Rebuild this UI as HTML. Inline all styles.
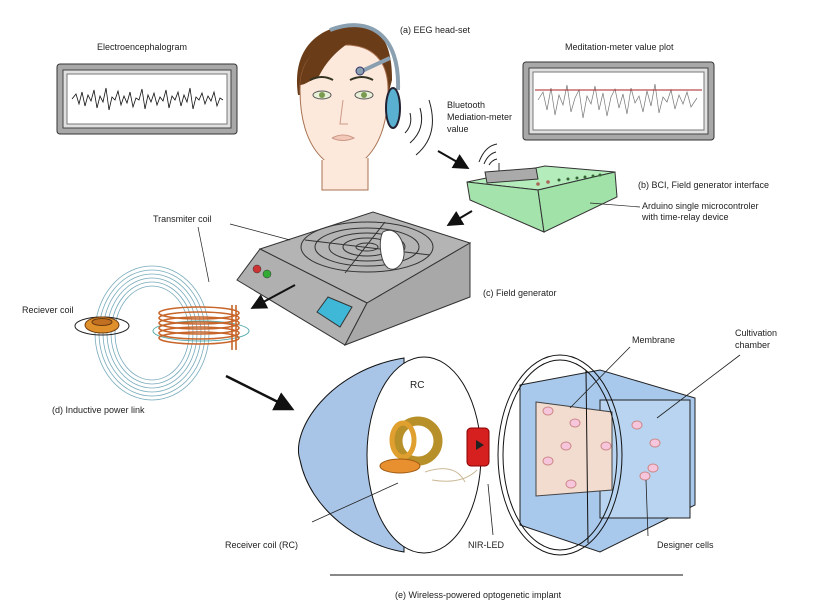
<!DOCTYPE html>
<html><head><meta charset="utf-8"><style>
html,body{margin:0;padding:0;background:#fff}
svg{display:block}
text{font-family:"Liberation Sans",sans-serif;font-size:9px;fill:#222}
</style></head><body>
<svg width="813" height="610" viewBox="0 0 813 610" xmlns="http://www.w3.org/2000/svg">
<defs>
<marker id="ar" markerWidth="8" markerHeight="8" refX="6" refY="4" orient="auto"><path d="M0,0 L8,4 L0,8 z" fill="#111"/></marker>
</defs>
<!-- EEG monitor -->
<text x="97" y="50">Electroencephalogram</text>
<rect x="57" y="64" width="180" height="70" rx="3" fill="#a8a8a8" stroke="#333"/>
<rect x="63" y="70" width="168" height="58" fill="#e0e0e0" stroke="#444"/>
<rect x="67" y="74" width="160" height="50" fill="#fff" stroke="#777"/>
<polyline fill="none" stroke="#111" stroke-width="0.8" points="72,99 76,94 79,104 82,92 85,106 88,95 91,101 94,90 97,108 100,96 103,102 106,88 109,110 112,97 115,100 118,91 121,105 124,96 127,103 130,92 133,107 136,98 139,100 142,89 145,109 148,95 151,102 154,93 157,105 160,97 163,101 166,90 169,108 172,96 175,100 178,92 181,106 184,95 187,102 190,88 193,109 196,97 199,100 202,93 205,104 208,96 211,101 214,92 217,106 220,98 223,100"/>
<!-- Meditation monitor -->
<text x="565" y="50">Meditation-meter value plot</text>
<rect x="523" y="62" width="191" height="78" rx="3" fill="#a8a8a8" stroke="#333"/>
<rect x="529" y="68" width="179" height="66" fill="#e0e0e0" stroke="#444"/>
<rect x="533" y="72" width="171" height="58" fill="#fff" stroke="#777"/>
<polyline fill="none" stroke="#777" stroke-width="0.7" points="538,100 543,92 547,110 551,88 555,115 559,95 563,105 567,85 571,112 575,98 579,90 583,118 587,96 591,104 595,86 599,110 603,93 607,116 611,97 615,89 619,108 623,94 627,114 631,88 635,103 639,96 643,112 647,91 651,106 655,84 659,113 663,97 667,102 671,90 675,109 679,95 683,104 687,92 691,107 697,98"/>
<line x1="535" y1="90" x2="702" y2="90" stroke="#a22" stroke-width="1"/>
<!-- Face -->
<path d="M298,95 C290,40 330,22 362,25 C385,30 392,50 392,80 L388,95 Z" fill="#6b3c18"/>
<path d="M300,90 C300,55 320,45 345,45 C372,45 388,60 388,90 C388,125 378,150 360,163 C350,170 338,170 328,163 C310,150 300,125 300,90 z" fill="#fce9dc" stroke="#a87050"/>
<path d="M322,160 L322,190 L368,190 L368,158" fill="#fce9dc" stroke="#a87050"/>
<path d="M300,85 C302,55 322,40 350,42 C330,55 322,70 318,78 C310,80 305,85 300,85z" fill="#6b3c18"/>
<path d="M310,80 q12,-6 23,0 M350,80 q12,-6 23,0" stroke="#332" stroke-width="2" fill="none"/>
<ellipse cx="322" cy="95" rx="9" ry="4" fill="#e8f0d8" stroke="#555"/><circle cx="322" cy="95" r="3" fill="#7a9a50"/>
<ellipse cx="364" cy="95" rx="9" ry="4" fill="#e8f0d8" stroke="#555"/><circle cx="364" cy="95" r="3" fill="#7a9a50"/>
<path d="M343,100 l-3,24 h8" stroke="#c98" fill="none"/>
<path d="M332,138 q11,5 22,0 q-11,-6 -22,0" stroke="#c98" fill="#f4c8b8"/>
<path d="M330,30 C370,15 400,35 398,90" stroke="#8aa0b0" stroke-width="4" fill="none"/>
<path d="M362,71 L390,58" stroke="#8aa0b0" stroke-width="4" fill="none"/>
<circle cx="360" cy="71" r="4" fill="#8aa0b0" stroke="#336"/>
<ellipse cx="393" cy="108" rx="7" ry="20" fill="#5ab0d0" stroke="#223" stroke-width="2"/>
<path d="M405,133 q8,-8 5,-20 M410,143 q16,-14 10,-35 M416,155 q24,-20 13,-55" stroke="#222" fill="none"/>
<text x="400" y="33">(a) EEG head-set</text>
<text x="447" y="108">Bluetooth</text>
<text x="447" y="120">Mediation-meter</text>
<text x="447" y="132">value</text>
<line x1="438" y1="151" x2="466" y2="167" stroke="#111" stroke-width="2" marker-end="url(#ar)"/>
<!-- BCI green box -->
<path d="M467,182 L545,166 L615,172 L538,190 z" fill="#b4ecbc" stroke="#333"/>
<path d="M467,182 L538,190 L544,232 L470,200 z" fill="#a4e4ac" stroke="#333"/>
<path d="M538,190 L615,172 L617,197 L544,232 z" fill="#a0e2a8" stroke="#333"/>
<path d="M485,172 L536,168 L538,179 L487,183 z" fill="#aaa" stroke="#333"/>
<line x1="499" y1="171" x2="499" y2="163" stroke="#333"/>
<g fill="#a65"><circle cx="538" cy="184" r="1.8"/><circle cx="548" cy="182" r="1.8"/></g>
<g fill="#363"><circle cx="559" cy="180" r="1.5"/><circle cx="568" cy="179" r="1.5"/><circle cx="577" cy="178" r="1.5"/><circle cx="585" cy="177" r="1.5"/><circle cx="593" cy="176" r="1.5"/><circle cx="600" cy="175" r="1.5"/></g>
<path d="M484,164 q4,-10 12,-12 M479,162 q6,-16 18,-18 M489,165 q3,-5 8,-6" stroke="#222" fill="none"/>
<text x="638" y="188">(b) BCI, Field generator interface</text>
<text x="642" y="209">Arduino single microcontroler</text>
<text x="642" y="220">with time-relay device</text>
<line x1="590" y1="203" x2="640" y2="207" stroke="#222" stroke-width="0.7"/>
<line x1="472" y1="211" x2="450" y2="224" stroke="#111" stroke-width="2" marker-end="url(#ar)"/>
<!-- Field generator -->
<path d="M260,249 L373,212 L470,243 L367,303 z" fill="#b4b4b4" stroke="#333"/>
<path d="M260,249 L367,303 L345,345 L237,280 z" fill="#b0b0b0" stroke="#333"/>
<path d="M367,303 L470,243 L470,297 L345,345 z" fill="#a8a8a8" stroke="#333"/>
<g fill="none" stroke="#333"><ellipse cx="367" cy="247" rx="66" ry="25"/><ellipse cx="367" cy="247" rx="52" ry="19"/><ellipse cx="367" cy="247" rx="38" ry="14"/><ellipse cx="367" cy="247" rx="24" ry="9"/><ellipse cx="367" cy="247" rx="11" ry="4"/><line x1="305" y1="240" x2="430" y2="255"/><line x1="345" y1="273" x2="385" y2="222"/></g>
<path d="M383,232 C395,225 405,240 404,255 C403,265 395,272 388,268 C380,262 378,240 383,232z" fill="#fff" stroke="#444"/>
<circle cx="257" cy="269" r="4" fill="#c33" stroke="#333" stroke-width="0.5"/><circle cx="267" cy="274" r="4" fill="#3a3" stroke="#333" stroke-width="0.5"/>
<path d="M317,312 L328,297 L352,307 L340,327 z" fill="#3fb8d8" stroke="#333"/>
<text x="483" y="296">(c) Field generator</text>
<line x1="295" y1="285" x2="254" y2="307" stroke="#111" stroke-width="2" marker-end="url(#ar)"/>
<!-- Inductive link -->
<text x="153" y="222">Transmiter coil</text>
<line x1="198" y1="227" x2="209" y2="282" stroke="#222" stroke-width="0.7"/>
<line x1="230" y1="224" x2="290" y2="240" stroke="#222" stroke-width="0.7"/>
<g fill="none" stroke="#7ab" stroke-width="0.8">
<ellipse cx="152" cy="333" rx="57" ry="67"/><ellipse cx="152" cy="333" rx="53" ry="63"/><ellipse cx="152" cy="333" rx="49" ry="59"/><ellipse cx="152" cy="333" rx="45" ry="55"/><ellipse cx="152" cy="333" rx="41" ry="51"/><ellipse cx="152" cy="333" rx="37" ry="47"/>
</g>
<ellipse cx="201" cy="331" rx="48" ry="10" fill="none" stroke="#5aa" stroke-width="1"/>
<g fill="none" stroke="#c8652a" stroke-width="1.6">
<ellipse cx="199" cy="313" rx="40" ry="6"/><ellipse cx="199" cy="318" rx="40" ry="6"/><ellipse cx="199" cy="323" rx="40" ry="6"/><ellipse cx="199" cy="328" rx="40" ry="6"/><ellipse cx="199" cy="333" rx="40" ry="6"/><ellipse cx="199" cy="338" rx="40" ry="6"/>
<line x1="232" y1="305" x2="232" y2="350"/><line x1="236" y1="305" x2="236" y2="350"/>
</g>
<ellipse cx="102" cy="326" rx="27" ry="9" fill="none" stroke="#222"/>
<ellipse cx="102" cy="325" rx="17" ry="8" fill="#e0902a" stroke="#6a3a10"/>
<ellipse cx="102" cy="322" rx="10" ry="3.5" fill="#c07020" stroke="#6a3a10"/>
<text x="22" y="313">Reciever coil</text>
<text x="52" y="413">(d) Inductive power link</text>
<line x1="226" y1="376" x2="290" y2="408" stroke="#111" stroke-width="2.5" marker-end="url(#ar)"/>
<!-- Implant -->
<path d="M404,358 C330,370 290,430 300,460 C310,510 360,545 404,552 z" fill="#a8c4e6" stroke="#111"/>
<ellipse cx="424" cy="455" rx="57" ry="98" fill="#fff" stroke="#111"/>
<text x="410" y="388" style="font-size:10px">RC</text>
<ellipse cx="418" cy="441" rx="20" ry="20" fill="none" stroke="#b8902a" stroke-width="9"/>
<ellipse cx="403" cy="440" rx="11" ry="17" fill="none" stroke="#e0a030" stroke-width="5"/>
<ellipse cx="400" cy="466" rx="20" ry="7" fill="#e89030" stroke="#a05a10"/>
<path d="M425,472 q30,-10 40,10 M432,480 q30,5 45,-10" stroke="#cb9" fill="none"/>
<rect x="467" y="428" width="22" height="38" rx="4" fill="#d62020" stroke="#800"/>
<path d="M476,440 l8,5 l-8,5 z" fill="#222"/>
<text x="225" y="548">Receiver coil (RC)</text>
<line x1="312" y1="522" x2="398" y2="483" stroke="#222" stroke-width="0.8"/>
<text x="468" y="548">NIR-LED</text>
<line x1="488" y1="484" x2="493" y2="535" stroke="#222" stroke-width="0.8"/>
<!-- chamber -->
<path d="M520,385 L600,370 L695,398 L695,505 L600,552 L520,525 z" fill="#a8c8ec" stroke="#222"/>
<rect x="600" y="400" width="90" height="118" fill="#b8d4f0" stroke="#222"/>
<path d="M536,402 L612,412 L612,490 L536,496 z" fill="#f2dcd0" stroke="#444"/>
<g fill="none" stroke="#111"><ellipse cx="560" cy="455" rx="62" ry="100"/><ellipse cx="560" cy="455" rx="57" ry="95"/></g>
<line x1="586" y1="370" x2="588" y2="543" stroke="#111"/>
<g fill="#f6c6dc" stroke="#c88"><ellipse cx="548" cy="411" rx="5" ry="4"/><ellipse cx="575" cy="423" rx="5" ry="4"/><ellipse cx="566" cy="446" rx="5" ry="4"/><ellipse cx="548" cy="461" rx="5" ry="4"/><ellipse cx="571" cy="484" rx="5" ry="4"/><ellipse cx="606" cy="446" rx="5" ry="4"/><ellipse cx="637" cy="425" rx="5" ry="4"/><ellipse cx="655" cy="443" rx="5" ry="4"/><ellipse cx="653" cy="468" rx="5" ry="4"/><ellipse cx="645" cy="476" rx="5" ry="4"/></g>
<text x="632" y="343">Membrane</text>
<line x1="630" y1="347" x2="570" y2="408" stroke="#222" stroke-width="0.8"/>
<text x="735" y="336">Cultivation</text>
<text x="735" y="348">chamber</text>
<line x1="740" y1="355" x2="657" y2="418" stroke="#222" stroke-width="0.8"/>
<text x="657" y="548">Designer cells</text>
<line x1="646" y1="480" x2="648" y2="536" stroke="#222" stroke-width="0.8"/>
<line x1="330" y1="575" x2="683" y2="575" stroke="#111" stroke-width="1"/>
<text x="395" y="598">(e) Wireless-powered optogenetic implant</text>
</svg>
</body></html>
